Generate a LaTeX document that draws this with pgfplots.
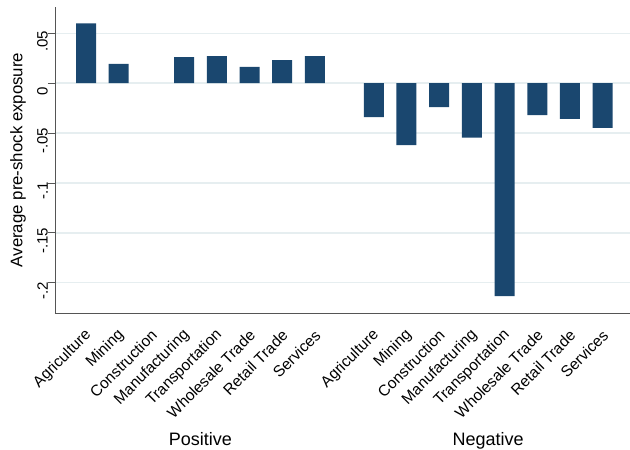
\documentclass[border=0pt]{standalone}
\usepackage{fontspec}
\setmainfont{Liberation Sans}
\usepackage{pgfplots}
\usepackage{pgfplotstable}
\pgfplotsset{compat=1.18}
\definecolor{barnavy}{RGB}{26,71,111}
\definecolor{gridc}{RGB}{230,238,240}
\definecolor{axc}{RGB}{85,85,85}
\pgfplotstableread{
x y
0 0.060
1 0.0193
2 0
3 0.026
4 0.027
5 0.0163
6 0.023
7 0.027
8.8 -0.034
9.8 -0.062
10.8 -0.024
11.8 -0.0547
12.8 -0.2133
13.8 -0.032
14.8 -0.0357
15.8 -0.0447
}\datatable
\begin{document}
\begin{tikzpicture}
\path[use as bounding box] (0,0) rectangle (630bp,450bp);
\begin{axis}[
  at={(55bp,137bp)}, anchor=south west,
  scale only axis, width=575bp, height=306bp,
  xmin=-0.948, xmax=16.636, ymin=-0.2303, ymax=0.0763,
  axis lines*=left,
  axis line style={axc, line width=0.9bp},
  clip=false,
  tick align=outside,
  major tick length=7bp,
  xtick style={draw=none},
  ytick style={axc, line width=0.8bp},
  ymajorgrids,
  grid style={gridc, line width=1.3bp},
  ytick={-0.2,-0.15,-0.1,-0.05,0,0.05},
  yticklabels={-.2,-.15,-.1,-.05,0,.05},
  xtick={0,1,2,3,4,5,6,7,8.8,9.8,10.8,11.8,12.8,13.8,14.8,15.8},
  xticklabels={Agriculture,Mining,Construction,Manufacturing,Transportation,Wholesale Trade,Retail Trade,Services,Agriculture,Mining,Construction,Manufacturing,Transportation,Wholesale Trade,Retail Trade,Services},
  ticklabel style={font=\fontsize{15bp}{17bp}\selectfont},
  yticklabel style={rotate=90, anchor=south, inner sep=0pt, xshift=-8bp},
  xticklabel style={font=\fontsize{15.5bp}{17bp}\selectfont, rotate=45, anchor=east, inner sep=0pt, yshift=-11bp, xshift=-7bp},
  ylabel={Average pre-shock exposure},
  every axis y label/.style={at={(rel axis cs:0,0.5)}, xshift=-37bp, rotate=90, anchor=center, font=\fontsize{16.8bp}{19bp}\selectfont},
]
\addplot[ybar, bar width=20bp, fill=barnavy, draw=none, y filter/.expression={y==0 ? nan : y}, unbounded coords=discard] table[x=x, y=y] {\datatable};
\node[anchor=base, font=\fontsize{18bp}{20bp}\selectfont, yshift=-132bp] at (axis cs:3.5,-0.2303) {Positive};
\node[anchor=base, font=\fontsize{18bp}{20bp}\selectfont, yshift=-132bp] at (axis cs:12.3,-0.2303) {Negative};
\end{axis}
\end{tikzpicture}
\end{document}
